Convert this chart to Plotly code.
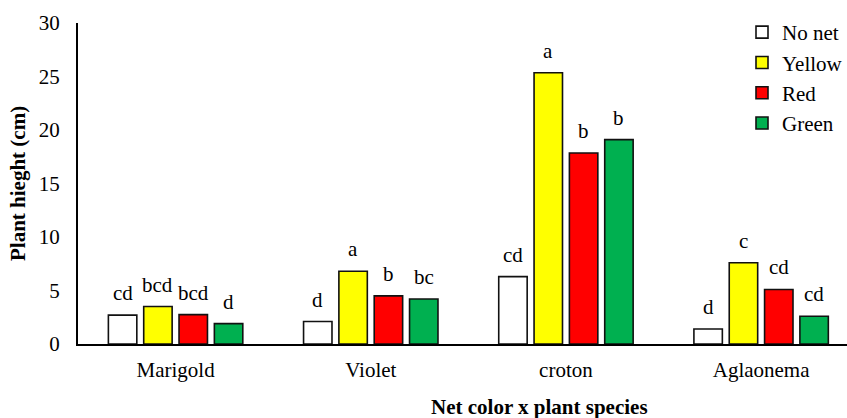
import plotly.graph_objects as go

categories = ["Marigold", "Violet", "croton", "Aglaonema"]
series_names = ["No net", "Yellow", "Red", "Green"]
no_net = [2.7, 2.1, 6.3, 1.4]
yellow = [3.5, 6.8, 25.35, 7.6]
red = [2.75, 4.5, 17.85, 5.1]
green = [1.9, 4.2, 19.1, 2.6]
letters_no_net = ["cd", "d", "cd", "d"]
letters_yellow = ["bcd", "a", "a", "c"]
letters_red = ["bcd", "b", "b", "cd"]
letters_green = ["d", "bc", "b", "cd"]

colors = ["#FFFFFF", "#FFFF00", "#FF0000", "#00B050"]
values = [no_net, yellow, red, green]
letters = [letters_no_net, letters_yellow, letters_red, letters_green]

FONT = "Liberation Serif"
W, H = 847, 418
L, R, T, B = 78, 0, 23, 74
pw, ph = W - L - R, H - T - B

fig = go.Figure()
for name, vals, col in zip(series_names, values, colors):
    fig.add_trace(go.Bar(
        x=categories, y=vals, name=name,
        marker=dict(color=col, line=dict(color="#111111", width=1.6)),
    ))

pitch = 35.3
offsets = [-1.5, -0.5, 0.5, 1.5]
for k, (vals, labs) in enumerate(zip(values, letters)):
    for c, v, t in zip(categories, vals, labs):
        fig.add_annotation(x=c, y=v, text=t, showarrow=False,
                           xshift=offsets[k] * pitch, yshift=8,
                           yanchor="bottom",
                           font=dict(family=FONT, size=21, color="black"))

fig.add_annotation(xref="paper", yref="paper", x=(539 - L) / pw, y=-(407 - (T + ph)) / ph,
                   xanchor="center", yanchor="middle", showarrow=False,
                   text="<b>Net color x plant species</b>",
                   font=dict(family=FONT, size=21, color="black"))
fig.add_annotation(xref="paper", yref="paper", x=(18 - L) / pw, y=((T + ph) - 183) / ph,
                   xanchor="center", yanchor="middle", showarrow=False, textangle=-90,
                   text="<b>Plant hieght (cm)</b>",
                   font=dict(family=FONT, size=21, color="black"))

fig.update_layout(
    width=W, height=H,
    margin=dict(l=L, r=R, t=T, b=B, autoexpand=False),
    paper_bgcolor="white", plot_bgcolor="white",
    barmode="group", bargap=0.276, bargroupgap=0.195,
    font=dict(family=FONT, size=21, color="black"),
    showlegend=True,
    legend=dict(x=(742 - L) / pw, y=1.0 + 11 / ph, xanchor="left", yanchor="top",
                font=dict(family=FONT, size=21, color="black"),
                bgcolor="rgba(0,0,0,0)", tracegroupgap=0, itemwidth=30,
                traceorder="normal"),
    xaxis=dict(range=[-0.5, 3.44], showline=True, linecolor="black", linewidth=2,
               ticks="", showgrid=False, automargin=False, ticklabelstandoff=6,
               tickfont=dict(family=FONT, size=21)),
    yaxis=dict(range=[0, 30], dtick=5, showline=True, linecolor="black", linewidth=2,
               ticks="", showgrid=False, zeroline=False, automargin=False,
               ticklabelstandoff=12,
               tickfont=dict(family=FONT, size=21)),
)

fig.write_html("out.html", config={"displayModeBar": False},
               post_script="document.body.style.margin='0';")
